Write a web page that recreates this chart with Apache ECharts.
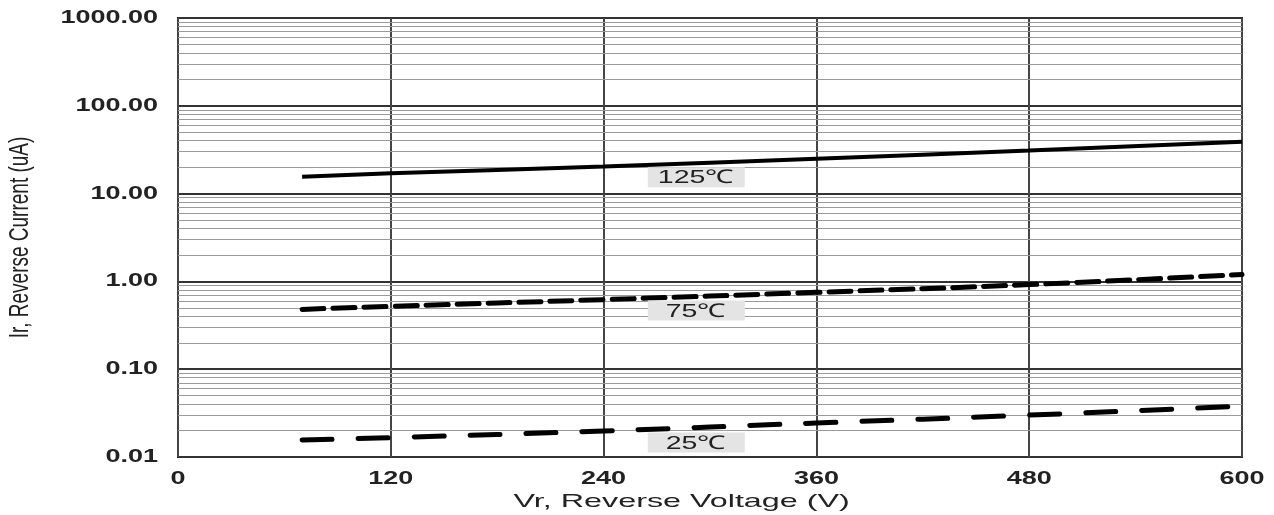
<!DOCTYPE html>
<html>
<head>
<meta charset="utf-8">
<script src="https://cdn.jsdelivr.net/npm/echarts@6/dist/echarts.min.js"></script>
<style>
  html, body { margin: 0; padding: 0; background: #fff; }
  #chart { width: 1274px; height: 515px; }
</style>
</head>
<body>
<div id="chart"></div>
<script>
// reverse voltage (V)
const voltage = [70, 120, 240, 360, 480, 600];
// reverse current (uA) per temperature
const ir125 = [15.6, 17.0, 20.3, 25.0, 31.0, 39.0];
const ir75 = [0.48, 0.52, 0.62, 0.75, 0.92, 1.2];
const ir25 = [0.0156, 0.0166, 0.0198, 0.0244, 0.030, 0.038];
const curveLabels = ["125℃", "75℃", "25℃"];
const labelVoltage = 292;

// axis ticks
const xTicks = [0, 120, 240, 360, 480, 600];
const yTicks = [0.01, 0.1, 1, 10, 100, 1000];

// log minor grid values (2..9 in every decade)
const minorSteps = [2, 3, 4, 5, 6, 7, 8, 9];
const minorGrid = [];
yTicks.slice(0, -1).forEach(d => minorSteps.forEach(m => minorGrid.push(+(d * m).toPrecision(3))));

function valueAt(xs, ys, x) {
  for (let i = 1; i < xs.length; i++) {
    if (x <= xs[i]) {
      const t = (x - xs[i - 1]) / (xs[i] - xs[i - 1]);
      return Math.pow(10, Math.log10(ys[i - 1]) + t * (Math.log10(ys[i]) - Math.log10(ys[i - 1])));
    }
  }
  return ys[ys.length - 1];
}

const FONT = "Liberation Sans, Arial, sans-serif";
const chart = echarts.init(document.getElementById("chart"));

chart.setOption({
  animation: false,
  grid: { left: 178, right: 32, top: 18, bottom: 58, outerBoundsMode: "none", show: true, borderColor: "#222", borderWidth: 2 },
  xAxis: {
    type: "value",
    min: 0,
    max: 600,
    interval: 120,
    axisLine: { show: false },
    axisTick: { show: false },
    axisLabel: { show: false },
    splitLine: { show: true, lineStyle: { color: "#444", width: 2 } }
  },
  yAxis: {
    type: "log",
    logBase: 10,
    min: 0.01,
    max: 1000,
    axisLine: { show: false },
    axisTick: { show: false },
    axisLabel: { show: false },
    splitLine: { show: true, lineStyle: { color: "#333", width: 2 } }
  },
  series: [
    {
      name: "grid",
      type: "line",
      data: [],
      silent: true,
      markLine: {
        silent: true,
        symbol: "none",
        label: { show: false },
        lineStyle: { color: "#9a9a9a", width: 1, type: "solid" },
        data: minorGrid.map(v => ({ yAxis: v }))
      },
      z: 1
    },
    {
      name: "125℃",
      type: "line",
      smooth: true,
      symbol: "none",
      data: voltage.map((v, i) => [v, ir125[i]]),
      lineStyle: { color: "#000", width: 4 },
      z: 5
    },
    {
      name: "75℃",
      type: "line",
      smooth: true,
      symbol: "none",
      data: voltage.map((v, i) => [v, ir75[i]]),
      lineStyle: { color: "#000", width: 5, type: [22, 9], cap: "round" },
      z: 5
    },
    {
      name: "25℃",
      type: "line",
      smooth: true,
      symbol: "none",
      data: voltage.map((v, i) => [v, ir25[i]]),
      lineStyle: { color: "#000", width: 5, type: [30, 26], cap: "round" },
      z: 5
    }
  ]
});

// the source figure is stretched horizontally, so text is drawn with scaleX
const px = v => chart.convertToPixel({ xAxisIndex: 0 }, v);
const py = v => chart.convertToPixel({ yAxisIndex: 0 }, v);
const graphics = [];

yTicks.forEach(v => {
  graphics.push({
    type: "text", x: px(0) - 20, y: py(v), scaleX: 1.5, z: 10,
    style: { text: v.toFixed(2), fontFamily: FONT, fontWeight: "bold", fontSize: 18, fill: "#222", align: "right", verticalAlign: "middle" }
  });
});
xTicks.forEach(v => {
  graphics.push({
    type: "text", x: px(v), y: py(0.01) + 22, scaleX: 1.5, z: 10,
    style: { text: String(v), fontFamily: FONT, fontWeight: "bold", fontSize: 18, fill: "#222", align: "center", verticalAlign: "middle" }
  });
});

graphics.push({
  type: "text", x: px(284), y: py(0.01) + 45, scaleX: 1.7, z: 10,
  style: { text: "Vr, Reverse Voltage (V)", fontFamily: FONT, fontSize: 19, fill: "#222", align: "center", verticalAlign: "middle" }
});
graphics.push({
  type: "text", x: 20, y: (py(0.01) + py(1000)) / 2, rotation: Math.PI / 2, scaleY: 1.45, z: 10,
  style: { text: "Ir, Reverse Current (uA)", fontFamily: FONT, fontSize: 19, fill: "#222", align: "center", verticalAlign: "middle" }
});

[[curveLabels[0], ir125, 14], [curveLabels[1], ir75, 14], [curveLabels[2], ir25, 15]].forEach(([text, ys, dy]) => {
  const cx = px(labelVoltage);
  const cy = py(valueAt(voltage, ys, labelVoltage)) + dy;
  graphics.push({
    type: "rect", z: 8,
    shape: { x: cx - 48, y: cy - 10, width: 97, height: 20 },
    style: { fill: "#e4e4e4" }
  });
  graphics.push({
    type: "text", x: cx, y: cy + 1, scaleX: 1.5, z: 9,
    style: { text: text, fontFamily: FONT, fontSize: 19, fill: "#222", align: "center", verticalAlign: "middle" }
  });
});

chart.setOption({ graphic: graphics });
</script>
</body>
</html>
